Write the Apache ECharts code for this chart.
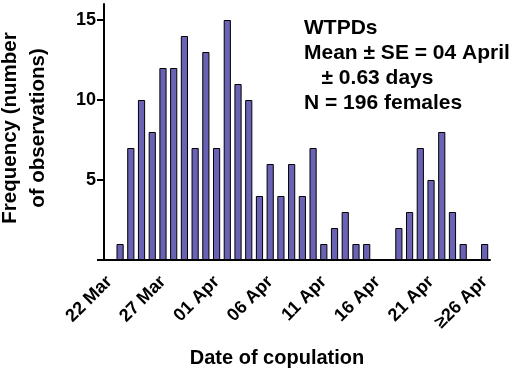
<!DOCTYPE html>
<html>
<head>
<meta charset="utf-8">
<script src="https://cdn.jsdelivr.net/npm/echarts@6/dist/echarts.min.js"></script>
<style>html,body{margin:0;padding:0;background:#fff;}#c{width:517px;height:374px;}</style>
</head>
<body>
<div id="c"></div>
<script>
// Dates of copulation (22 Mar .. >=26 Apr)
const categories = ['22 Mar','23 Mar','24 Mar','25 Mar','26 Mar','27 Mar','28 Mar','29 Mar','30 Mar','31 Mar',
  '01 Apr','02 Apr','03 Apr','04 Apr','05 Apr','06 Apr','07 Apr','08 Apr','09 Apr','10 Apr',
  '11 Apr','12 Apr','13 Apr','14 Apr','15 Apr','16 Apr','17 Apr','18 Apr','19 Apr','20 Apr',
  '21 Apr','22 Apr','23 Apr','24 Apr','25 Apr','≥26 Apr'];
const frequency = [0,1,7,10,8,12,12,14,7,13,
  7,15,11,10,4,6,4,6,4,7,
  1,2,3,1,1,0,0,2,3,7,
  5,8,3,1,0,1];
const yTickValues = [0,5,10,15];
const yLabelValues = [5,10,15];
const shownXLabels = ['22 Mar','27 Mar','01 Apr','06 Apr','11 Apr','16 Apr','21 Apr','≥26 Apr'];
const annotationLines = ['WTPDs','Mean ± SE = 04 April','   ± 0.63 days','N = 196 females'];

const font = 'Liberation Sans, Arial, sans-serif';
const chart = echarts.init(document.getElementById('c'), null, {renderer:'canvas'});
chart.setOption({
  animation:false,
  backgroundColor:'#fff',
  grid:{left:104, right:27, top:4, bottom:114, containLabel:false, outerBoundsMode:'none'},
  xAxis:{
    type:'category',
    data:categories,
    boundaryGap:true,
    axisLine:{lineStyle:{color:'#000', width:2}},
    axisTick:{alignWithLabel:true, length:7, interval:0, lineStyle:{color:'#000', width:2}},
    axisLabel:{
      interval:0, rotate:45, margin:19,
      fontFamily:font, fontWeight:'bold', fontSize:18, color:'#000',
      formatter:(v)=> shownXLabels.includes(v) ? v : ''
    },
    name:'Date of copulation',
    nameLocation:'middle',
    nameGap:88,
    nameTextStyle:{fontFamily:font, fontWeight:'bold', fontSize:20, color:'#000', padding:[0,40,0,0]}
  },
  yAxis:{
    type:'value', min:0, max:16, interval:5,
    splitLine:{show:false},
    axisLine:{show:true, lineStyle:{color:'#000', width:2}},
    axisTick:{show:true, length:7, customValues:yTickValues, lineStyle:{color:'#000', width:2}},
    axisLabel:{customValues:yLabelValues, margin:8, fontFamily:font, fontWeight:'bold', fontSize:18, color:'#000'},
    name:'Frequency (number\nof observations)',
    nameLocation:'middle',
    nameRotate:90,
    nameGap:52,
    nameTextStyle:{fontFamily:font, fontWeight:'bold', fontSize:20.5, color:'#000', lineHeight:28, align:'center', padding:[0,0,0,8]}
  },
  series:[{
    type:'bar',
    data:frequency,
    barCategoryGap:'33%',
    itemStyle:{color:'#6a63b5', borderColor:'#000', borderWidth:1}
  }],
  graphic:[{
    type:'text', left:304, top:16,
    style:{text:annotationLines.join('\n'), font:'bold 21px '+font, fill:'#000', lineHeight:25}
  }]
});
</script>
</body>
</html>
